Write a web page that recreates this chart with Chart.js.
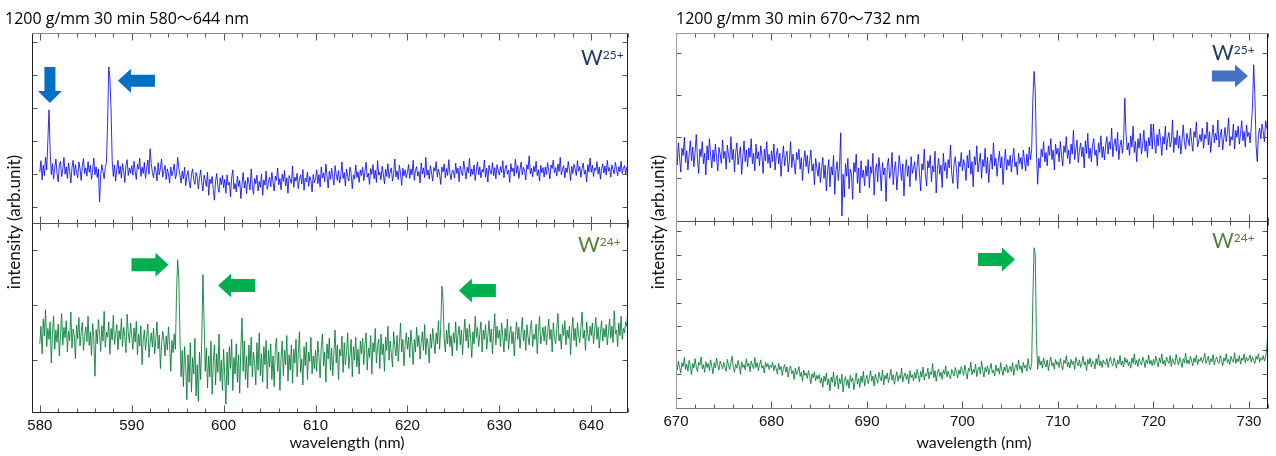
<!DOCTYPE html>
<html>
<head>
<meta charset="utf-8">
<script src="https://cdn.jsdelivr.net/npm/chart.js@4.4.1/dist/chart.umd.min.js"></script>
<style>
body{margin:0;background:#fff;width:1276px;height:456px;position:relative;overflow:hidden;font-family:Lato,"Noto Sans CJK JP",sans-serif;}
canvas{position:absolute;top:0;}
.title{position:absolute;top:9px;font-family:"Open Sans","Noto Sans CJK JP",sans-serif;font-size:16px;line-height:18px;color:#000;white-space:nowrap;}
.xtitle{position:absolute;top:433px;width:200px;text-align:center;font-size:16px;line-height:18px;color:#111;white-space:nowrap;}
.ytitle{position:absolute;width:200px;height:18px;line-height:18px;font-size:17px;text-align:center;transform:rotate(-90deg);white-space:nowrap;color:#111;}
.wlab{position:absolute;font-size:21px;line-height:21px;white-space:nowrap;}
.wlab sup{font-size:12px;vertical-align:top;position:relative;top:-2px;}
</style>
</head>
<body>
<canvas id="left" width="640" height="456" style="left:0"></canvas>
<canvas id="right" width="636" height="456" style="left:640px"></canvas>

<div class="title" style="left:5px">1200 g/mm 30 min 580～644 nm</div>
<div class="title" style="left:676px">1200 g/mm 30 min 670～732 nm</div>
<div class="xtitle" style="left:247px">wavelength (nm)</div>
<div class="xtitle" style="left:874px">wavelength (nm)</div>
<div class="ytitle" style="left:-86px;top:213px">intensity (arb.unit)</div>
<div class="ytitle" style="left:558px;top:213px">intensity (arb.unit)</div>
<div class="wlab" style="left:581px;top:46px;color:#203864">W<sup>25+</sup></div>
<div class="wlab" style="left:578px;top:233px;color:#548235">W<sup>24+</sup></div>
<div class="wlab" style="left:1212px;top:41px;color:#203864">W<sup>25+</sup></div>
<div class="wlab" style="left:1212px;top:229px;color:#548235">W<sup>24+</sup></div>

<script>
// spectra sampled every 0.125 nm
const STEP = 0.125;
const leftStart = 580;   // 580 ~ 644 nm
const rightStart = 670;  // 670 ~ 732 nm

// W25+ 580-644 nm (arb. units), one row = 5 nm
const ulValues = [
  105, 140, 82, 126, 95, 150, 112, 200, 294, 170, 98, 131, 84, 118, 145, 102, 76, 125, 138, 92, 114, 150, 99, 121, 86, 133, 108, 72, 119, 141, 95, 128, 104, 88, 136, 117, 80, 124, 146, 101,
  118, 93, 137, 105, 126, 84, 112, 148, 97, 121, 89, 115, 15, 96, 128, 107, 85, 119, 134, 250, 424, 390, 300, 140, 92, 127, 78, 115, 141, 99, 123, 87, 131, 110, 74, 126, 143, 95, 118, 102,
  125, 96, 138, 108, 83, 129, 114, 147, 92, 120, 101, 135, 86, 117, 142, 99, 176, 131, 104, 88, 123, 112, 79, 134, 97, 118, 145, 90, 109, 126, 83, 115, 100, 72, 121, 94, 108, 130, 85, 99,
  150, 118, 96, 72, 108, 85, 120, 64, 93, 110, 78, 57, 99, 115, 82, 68, 104, 90, 55, 87, 112, 73, 48, 96, 80, 62, 105, 35, 84, 70, 92, 52, 20, 78, 101, 60, 44, 88, 67, 95,
  58, 83, 41, 97, 66, 75, 30, 88, 112, 54, 71, 45, 93, 62, 80, 25, 68, 104, 57, 79, 40, 90, 73, 51, 115, 64, 38, 86, 70, 96, 48, 77, 59, 100, 35, 82, 66, 108, 53, 74,
  90, 61, 104, 75, 48, 93, 80, 118, 67, 86, 52, 99, 77, 110, 63, 88, 41, 95, 82, 71, 124, 59, 90, 78, 102, 55, 84, 97, 69, 113, 50, 87, 76, 106, 62, 92, 80, 45, 98, 73,
  85, 112, 70, 98, 60, 121, 88, 103, 76, 130, 94, 57, 108, 83, 117, 91, 66, 125, 99, 80, 110, 72, 95, 136, 86, 104, 63, 115, 92, 78, 120, 101, 55, 97, 84, 127, 89, 106, 74, 112,
  95, 120, 79, 108, 135, 90, 102, 68, 116, 98, 128, 85, 111, 74, 140, 96, 105, 82, 123, 100, 70, 114, 92, 131, 87, 106, 118, 78, 99, 145, 91, 109, 83, 126, 102, 65, 117, 94, 112, 88,
  104, 128, 86, 115, 97, 141, 80, 110, 122, 93, 107, 72, 133, 100, 118, 89, 150, 96, 112, 84, 125, 103, 78, 119, 108, 137, 91, 114, 99, 68, 121, 106, 130, 88, 116, 95, 143, 101, 82, 111,
  109, 87, 132, 101, 118, 76, 124, 106, 95, 139, 112, 84, 120, 103, 147, 92, 115, 98, 127, 80, 110, 136, 97, 121, 88, 113, 105, 142, 90, 117, 75, 126, 108, 99, 134, 94, 119, 85, 128, 111,
  96, 122, 104, 140, 88, 115, 127, 99, 111, 74, 131, 107, 118, 93, 145, 102, 125, 86, 113, 136, 97, 120, 109, 82, 128, 114, 155, 100, 117, 91, 123, 106, 138, 95, 112, 78, 126, 103, 119, 90,
  121, 98, 134, 110, 85, 127, 116, 142, 103, 119, 93, 130, 107, 150, 97, 114, 125, 88, 118, 104, 137, 111, 80, 123, 101, 129, 115, 95, 140, 108, 122, 90, 117, 133, 99, 112, 76, 128, 106, 148,
  105, 126, 92, 118, 110, 137, 99, 121, 84, 115, 130, 103, 124, 96, 141, 108, 119, 90, 127, 112, 100, 135, 116, 94, 122, 106, 138, 101, 117, 125, 98, 120, 111
];

// W24+ 580-644 nm
const llValues = [
  30, 62, 12, 75, 44, 92, 25, 58, 38, 70, -5, 49, 81, 20, 55, 33, 66, 8, 47, 85, 28, 60, 41, 72, 15, 53, 36, 88, 22, 57, 45, 3, 64, 39, 78, 26, 50, 69, 18, 43,
  61, 34, 80, 27, 52, 9, 67, 40, -29, 56, 30, 74, 47, 16, 63, 35, 89, 24, 51, 42, 70, 11, 58, 37, 82, 29, 46, 65, 19, 54, 38, 76, 25, 60, 43, 14, 84, 50, 32, 68,
  44, 20, 59, 33, 71, 10, 48, 26, 63, -8, 37, 55, 18, 42, 66, 5, 31, 50, 24, 58, 12, 39, 70, 21, 46, -15, 29, 53, 35, 8, 44, 19, 61, 27, -20, 36, 14, 48, 20, 120,
  183, 150, 45, -30, 18, -48, 25, -12, -72, 10, -40, 32, -58, 5, -25, 40, -65, -8, -75, 15, -35, 40, 156, 70, -20, 22, -50, 8, -30, 35, -62, -5, 28, -45, 12, -22, 48, -38, 0, -55,
  20, -30, -80, 15, -45, 25, -15, 38, -55, 5, -25, 30, -40, 10, -60, 22, 77, -20, 35, -35, 8, -50, 28, -10, 42, -30, 15, -5, -45, 32, -18, 50, -28, 12, -40, 25, -8, 36, -52, 18,
  -12, 30, -35, 8, -48, 22, 40, -20, 15, -55, 5, 35, -28, 18, -8, 45, -38, 10, -18, 28, -42, 20, -5, 38, -30, 12, 52, -22, 2, -45, 25, -10, 33, -35, 15, -2, 42, -25, 8, -15,
  18, -20, 35, 5, -32, 25, 48, -10, 15, -40, 30, 2, 40, -18, 22, -28, 12, 55, -5, 28, -35, 20, 8, 44, -22, 32, -8, 15, 50, -15, 10, 38, -30, 25, 0, 42, -12, 20, -25, 35,
  12, 40, -8, 28, 50, -18, 22, 5, 45, -25, 32, 15, 58, -5, 25, 38, -15, 48, 10, 30, -20, 42, 18, 62, 0, 35, 12, -12, 52, 25, 8, 45, -2, 30, 68, 15, 38, -10, 27, 50,
  20, 42, 5, 55, 28, -8, 38, 15, 60, 25, 45, 2, 33, 52, 18, 65, 10, 40, 28, -5, 48, 22, 58, 35, 12, 50, 30, 72, 20, 60, 135, 110, 40, 15, 55, 30, 68, 25, 45, 8,
  50, 32, 70, 18, 45, 62, 28, 55, 10, 48, 75, 35, 58, 22, 66, 40, 5, 52, 30, 80, 42, 60, 25, 48, 70, 15, 55, 38, 65, 20, 45, 72, 33, 57, 12, 50, 85, 28, 62, 40,
  55, 25, 68, 42, 15, 58, 35, 75, 20, 48, 62, 30, 52, 8, 45, 70, 38, 60, 22, 50, 78, 35, 55, 18, 65, 42, 28, 58, 72, 25, 48, 38, 66, 12, 52, 80, 30, 45, 60, 35,
  62, 28, 50, 75, 38, 56, 15, 68, 42, 30, 58, 85, 35, 48, 20, 65, 45, 72, 28, 55, 40, 62, 10, 52, 78, 36, 58, 25, 68, 46, 32, 60, 88, 40, 55, 18, 70, 48, 35, 62,
  45, 68, 30, 55, 78, 38, 60, 22, 50, 72, 35, 58, 42, 65, 28, 52, 75, 40, 62, 32, 90, 48, 55, 25, 68, 45, 80, 38, 58, 50, 70, 62, 100
];

// W25+ 670-732 nm
const urValues = [
  60, 32, 85, 48, 15, 72, 55, 98, 38, 66, 20, 58, 90, 42, 75, 28, 63, 105, 46, 12, 70, 52, 88, 35, 60, 8, 78, 44, 95, 56, 25, 68, 40, 82, 50, 18, 74, 58, 36, 92,
  48, 65, 22, 80, 55, 38, 100, 45, 70, 15, 62, 85, 33, 57, 76, 10, 52, 90, 40, 68, 28, 73, 50, 95, 35, 60, 18, 82, 47, 64, 30, 78, 55, 12, 70, 42, 88, 36, 58, 25,
  66, 40, 82, 20, 55, 72, 35, 60, 5, 48, 78, 30, 52, 65, 15, 44, 88, 26, 58, 38, 10, 62, 45, 70, 22, 50, -5, 40, 66, 28, 55, 12, 42, 68, 18, 35, -15, 48, 25, 5,
  38, -10, 25, 50, 0, 32, -30, 18, 45, -20, 28, 8, 55, -38, 20, 40, -5, 30, 109, -90, 10, -45, 35, 5, 48, -25, 22, 12, -50, 38, 15, 58, -12, 25, -35, 42, 2, 20, -18, 30,
  5, 45, -22, 28, 12, 60, -40, 18, 35, -8, 50, 20, -30, 38, 8, 25, -55, 30, 48, 0, 15, 62, -15, 22, 40, -28, 10, 55, 28, -5, 35, -42, 18, 45, 5, 30, -20, 52, 12, 25,
  40, -5, 28, 58, 12, -30, 35, 20, 70, 8, -18, 42, 25, 55, -8, 30, 15, 65, -35, 22, 48, 10, 32, -22, 60, 18, 38, 0, 45, 25, 80, 12, -12, 35, 52, 20, -25, 40, 28, 62,
  18, 45, 30, -5, 55, 25, 68, 10, 40, -20, 52, 32, 78, 15, 38, 60, 0, 45, 28, 72, 12, 50, -10, 35, 58, 22, 85, 30, 48, 5, 40, 65, 25, 52, -15, 38, 70, 20, 45, 30,
  55, 15, 48, 72, 28, 40, 8, 60, 35, 50, 22, 68, 42, 18, 58, 30, 75, 45, 70, 190, 256, 210, 60, -14, 48, 25, 70, 52, 88, 40, 62, 30, 78, 55, 95, 45, 68, 20, 82, 58,
  72, 40, 88, 55, 30, 78, 62, 100, 48, 68, 35, 82, 58, 115, 45, 70, 92, 38, 65, 85, 52, 75, 25, 90, 60, 108, 48, 72, 40, 80, 95, 55, 68, 30, 85, 62, 102, 50, 76, 44,
  80, 100, 58, 88, 70, 120, 52, 82, 95, 65, 110, 45, 78, 92, 60, 90, 192, 110, 68, 85, 55, 102, 75, 125, 62, 88, 40, 95, 72, 108, 58, 82, 115, 65, 90, 50, 98, 78, 130, 70,
  130, 85, 60, 105, 78, 118, 92, 55, 100, 82, 125, 68, 95, 110, 75, 88, 140, 62, 98, 80, 115, 72, 102, 58, 92, 128, 85, 70, 108, 95, 78, 120, 88, 65, 112, 98, 135, 75, 90, 105,
  88, 120, 72, 105, 95, 135, 80, 112, 62, 98, 128, 85, 108, 92, 140, 75, 102, 118, 68, 96, 122, 88, 110, 145, 78, 100, 92, 130, 70, 115, 98, 125, 82, 108, 138, 90, 112, 75, 128, 100,
  110, 85, 125, 170, 272, 200, 80, 40, 105, 120, 95, 130, 112, 88, 138, 120, 115
];

// W24+ 670-732 nm
const lrValues = [
  140, 118, 155, 128, 105, 148, 132, 170, 120, 142, 112, 158, 135, 98, 145, 125, 165, 130, 110, 150, 138, 172, 122, 140, 108, 152, 128, 145, 115, 160, 132, 102, 148, 126, 168, 136, 118, 155, 140, 122,
  150, 128, 112, 162, 138, 120, 146, 175, 130, 108, 142, 125, 158, 135, 100, 152, 128, 140, 118, 165, 132, 145, 110, 155, 138, 122, 170, 128, 148, 115, 140, 160, 125, 136, 105, 150, 130, 145, 120, 138,
  128, 150, 115, 138, 122, 100, 145, 118, 132, 95, 125, 140, 108, 130, 88, 120, 135, 102, 115, 78, 125, 98, 112, 132, 90, 108, 70, 118, 95, 105, 82, 115, 92, 60, 102, 85, 110, 72, 95, 80,
  98, 62, 85, 45, 92, 70, 105, 55, 80, 30, 88, 65, 110, 48, 75, 95, 38, 82, 60, 100, 25, 72, 90, 52, 78, 40, 95, 68, 85, 35, 70, 105, 58, 82, 45, 92, 65, 112, 50, 78,
  95, 60, 82, 115, 70, 92, 50, 100, 78, 62, 108, 85, 72, 118, 55, 95, 80, 105, 65, 90, 120, 75, 98, 58, 88, 110, 70, 95, 82, 125, 68, 92, 105, 78, 100, 60, 115, 85, 98, 72,
  108, 82, 120, 95, 68, 112, 88, 130, 75, 102, 92, 125, 80, 110, 98, 145, 85, 115, 70, 105, 122, 90, 108, 78, 118, 100, 135, 88, 112, 95, 80, 120, 105, 92, 128, 110, 85, 118, 100, 132,
  115, 95, 138, 108, 80, 125, 112, 150, 98, 120, 105, 142, 90, 118, 130, 100, 155, 115, 88, 128, 110, 135, 98, 122, 145, 105, 118, 92, 138, 112, 125, 100, 148, 118, 95, 130, 112, 140, 105, 122,
  132, 110, 148, 95, 128, 140, 115, 160, 120, 135, 105, 150, 125, 138, 112, 165, 130, 118, 145, 420, 630, 600, 250, 120, 175, 138, 155, 125, 168, 142, 130, 160, 115, 150, 172, 135, 148, 120, 162, 140,
  152, 128, 165, 140, 118, 158, 145, 178, 132, 150, 125, 162, 140, 155, 120, 170, 148, 135, 160, 128, 145, 175, 138, 152, 115, 162, 142, 168, 130, 155, 148, 122, 165, 140, 182, 135, 155, 128, 160, 145,
  140, 165, 128, 155, 172, 145, 135, 168, 150, 125, 160, 142, 178, 138, 155, 130, 170, 148, 162, 135, 152, 125, 168, 145, 185, 140, 158, 132, 165, 150, 138, 172, 155, 128, 160, 145, 180, 142, 158, 135,
  162, 140, 175, 152, 130, 168, 148, 185, 142, 158, 135, 172, 155, 145, 178, 132, 165, 150, 140, 182, 158, 138, 170, 152, 128, 165, 148, 188, 145, 160, 142, 175, 155, 135, 168, 150, 180, 140, 162, 155,
  170, 148, 162, 188, 145, 158, 175, 140, 165, 152, 182, 138, 160, 172, 150, 145, 178, 160, 135, 168, 155, 185, 148, 162, 140, 175, 158, 150, 190, 145, 165, 152, 178, 142, 168, 158, 185, 148, 170, 155,
  165, 180, 150, 172, 158, 145, 175, 162, 185, 150, 168, 160, 178, 155, 170, 210, 280
];

// y tick marks (the y axes carry no labels)
const ulTicks = [0, 100, 200, 300, 400, 500];
const llTicks = [0, 100, 200];
const urTicks = [0, 100, 200, 300];
const lrTicks = [0, 100, 200, 300, 400, 500, 600, 700];

const BLUE = 'rgba(10,10,245,0.85)';
const GREEN = 'rgba(0,122,52,0.85)';

function toPoints(start, vals) {
  return vals.map((v, i) => ({x: start + i * STEP, y: v}));
}

function line(ctx, x1, y1, x2, y2) {
  ctx.beginPath();
  ctx.moveTo(x1, y1);
  ctx.lineTo(x2, y2);
  ctx.stroke();
}

// block arrow with its tip at (tx, ty)
function arrow(ctx, tx, ty, a) {
  const L = a.len, H = a.head, hw = a.hw / 2, sw = a.sw / 2;
  let pts;
  if (a.dir === 'left') {
    pts = [[0,0],[H,-hw],[H,-sw],[L,-sw],[L,sw],[H,sw],[H,hw]];
  } else if (a.dir === 'right') {
    pts = [[0,0],[-H,-hw],[-H,-sw],[-L,-sw],[-L,sw],[-H,sw],[-H,hw]];
  } else {
    pts = [[0,0],[-hw,-H],[-sw,-H],[-sw,-L],[sw,-L],[sw,-H],[hw,-H]];
  }
  ctx.fillStyle = a.color;
  ctx.beginPath();
  pts.forEach((p, i) => i ? ctx.lineTo(tx + p[0], ty + p[1]) : ctx.moveTo(tx + p[0], ty + p[1]));
  ctx.closePath();
  ctx.fill();
}

const framePlugin = {
  id: 'frame',
  afterDatasetsDraw(chart, args, o) {
    const {ctx, chartArea: a, scales} = chart;
    const x = scales.x, yt = scales.yTop, yb = scales.yBot;
    const mid = Math.round(yt.bottom) + 0.5;
    const L = Math.round(a.left) + 0.5, R = Math.round(a.right) - 0.5;
    const T = Math.round(a.top) + 0.5, B = Math.round(a.bottom) - 0.5;
    ctx.save();
    ctx.lineWidth = 1;

    (o.arrows || []).forEach(ar => {
      arrow(ctx, x.getPixelForValue(ar.x), scales[ar.axis].getPixelForValue(ar.y), ar);
    });

    ctx.strokeStyle = o.color;
    for (let v = Math.ceil(x.min / 2) * 2; v <= x.max; v += 2) {
      const px = Math.round(x.getPixelForValue(v)) + 0.5;
      const len = v % 10 === 0 ? 7 : 4;
      line(ctx, px, T, px, T + len);
      line(ctx, px, mid, px, mid - len);
      line(ctx, px, mid, px, mid + len);
      line(ctx, px, B, px, B - len);
    }
    [[yt, o.topTicks], [yb, o.botTicks]].forEach(([s, ticks]) => {
      ticks.forEach(v => {
        const py = Math.round(s.getPixelForValue(v)) + 0.5;
        line(ctx, L, py, L + 5, py);
        line(ctx, R, py, R - 5, py);
      });
    });
    line(ctx, L, mid, R, mid);
    const e = o.edges; // left, bottom, right, top
    ctx.strokeStyle = e[0]; line(ctx, L, T, L, B);
    ctx.strokeStyle = e[1]; line(ctx, L, B, R, B);
    ctx.strokeStyle = e[2]; line(ctx, R, T, R, B);
    ctx.strokeStyle = e[3]; line(ctx, L, T, R, T);
    ctx.restore();
  }
};

function makePanel(id, p) {
  const ds = (vals, axis, color) => ({
    data: toPoints(p.start, vals),
    yAxisID: axis,
    borderColor: color,
    borderWidth: 1,
    pointRadius: 0,
    tension: 0
  });
  const yScale = range => ({
    type: 'linear',
    position: 'left',
    stack: 'spec',
    stackWeight: 1,
    min: range[0],
    max: range[1],
    ticks: {display: false},
    grid: {display: false, drawTicks: false},
    border: {display: false},
    afterFit: s => { s.width = 0; }
  });
  return new Chart(document.getElementById(id), {
    type: 'line',
    data: {datasets: [ds(p.top, 'yTop', BLUE), ds(p.bot, 'yBot', GREEN)]},
    options: {
      responsive: false,
      animation: false,
      events: [],
      layout: {padding: p.padding},
      plugins: {
        legend: {display: false},
        tooltip: {enabled: false},
        frame: {
          color: '#555', edges: p.edges,
          topTicks: p.topTicks, botTicks: p.botTicks, arrows: p.arrows
        }
      },
      scales: {
        x: {
          type: 'linear',
          min: p.xRange[0],
          max: p.xRange[1],
          grid: {display: false, drawTicks: false},
          border: {display: false},
          afterFit: s => { s.height = p.xHeight; },
          ticks: {
            stepSize: 10, includeBounds: false, autoSkip: false, maxRotation: 0,
            padding: 4, color: '#111',
            font: {family: 'Liberation Sans', size: 15},
            callback: v => String(v)
          }
        },
        yBot: yScale(p.botRange),
        yTop: yScale(p.topRange)
      }
    },
    plugins: [framePlugin]
  });
}

makePanel('left', {
  start: leftStart,
  top: ulValues, bot: llValues,
  xRange: [579.15, 644],
  topRange: [-49, 527], botRange: [-96, 250],
  topTicks: ulTicks, botTicks: llTicks,
  padding: {left: 32, right: 12, top: 33, bottom: 0},
  xHeight: 43,
  edges: ['#222', '#222', '#222', '#888'],
  arrows: [
    {axis: 'yTop', x: 581.1, y: 315, dir: 'down', len: 36, head: 12, hw: 24, sw: 11, color: '#0070C0'},
    {axis: 'yTop', x: 588.5, y: 382, dir: 'left', len: 37, head: 13, hw: 24, sw: 12, color: '#0070C0'},
    {axis: 'yBot', x: 594.0, y: 174, dir: 'right', len: 37, head: 13, hw: 24, sw: 13, color: '#00B050'},
    {axis: 'yBot', x: 599.4, y: 136, dir: 'left', len: 37, head: 13, hw: 24, sw: 13, color: '#00B050'},
    {axis: 'yBot', x: 625.6, y: 127, dir: 'left', len: 37, head: 13, hw: 24, sw: 13, color: '#00B050'}
  ]
});

makePanel('right', {
  start: rightStart,
  top: urValues, bot: lrValues,
  xRange: [670, 732],
  topRange: [-102, 348], botRange: [-46, 742],
  topTicks: urTicks, botTicks: lrTicks,
  padding: {left: 36, right: 8, top: 33, bottom: 0},
  xHeight: 47,
  edges: ['#999', '#777', '#111', '#999'],
  arrows: [
    {axis: 'yTop', x: 729.9, y: 245, dir: 'right', len: 36, head: 13, hw: 23, sw: 11, color: '#4472C4'},
    {axis: 'yBot', x: 705.5, y: 581, dir: 'right', len: 37, head: 13, hw: 24, sw: 13, color: '#00B050'}
  ]
});
</script>
</body>
</html>
